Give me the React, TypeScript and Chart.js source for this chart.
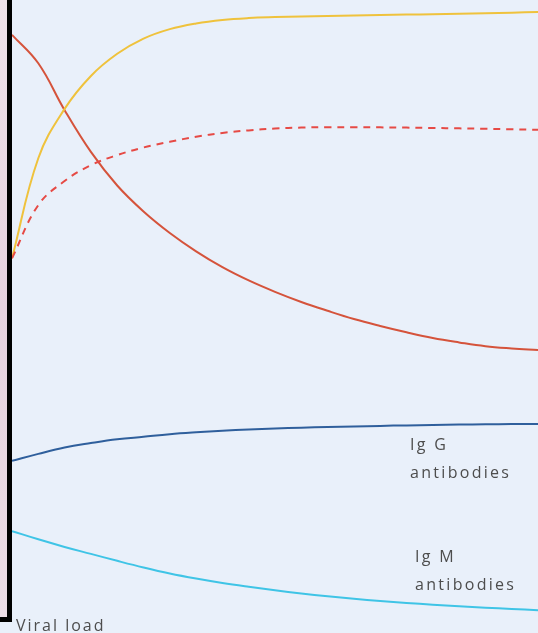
import React, { useEffect, useRef } from "react";
import { Chart, registerables } from "chart.js";
Chart.register(...registerables);

const times = [0, 5, 10, 15, 20, 25, 30, 35, 40, 45, 50, 55, 60, 65, 70, 75, 80, 85, 90, 95, 100];
const viralLoad = [94.5, 90.0, 82.6, 76.0, 70.7, 66.6, 63.2, 60.3, 57.8, 55.7, 53.9, 52.3, 50.9, 49.6, 48.5, 47.5, 46.6, 45.9, 45.3, 44.95, 44.7];
const yellowCurve = [59.2, 75.0, 82.8, 88.0, 91.5, 93.9, 95.4, 96.3, 96.85, 97.15, 97.3, 97.4, 97.48, 97.55, 97.62, 97.69, 97.76, 97.83, 97.9, 98.0, 98.1];
const dashedCurve = [59.2, 67.6, 71.4, 73.9, 75.5, 76.7, 77.6, 78.4, 79.0, 79.4, 79.7, 79.85, 79.9, 79.9, 79.88, 79.84, 79.78, 79.72, 79.65, 79.58, 79.5];
const igG = [27.2, 28.3, 29.3, 30.0, 30.6, 31.0, 31.4, 31.7, 31.95, 32.15, 32.3, 32.43, 32.54, 32.64, 32.72, 32.8, 32.87, 32.93, 32.97, 33.0, 33.02];
const igM = [16.1, 14.8, 13.6, 12.5, 11.4, 10.35, 9.4, 8.6, 7.9, 7.3, 6.75, 6.25, 5.8, 5.4, 5.05, 4.75, 4.48, 4.22, 4.0, 3.8, 3.6];

const pts = (arr: number[]) => arr.map((v, i) => ({ x: times[i], y: v }));

export default function App() {
  const ref = useRef<HTMLCanvasElement | null>(null);
  useEffect(() => {
    document.body.style.margin = "0";
    const mk = (label: string, data: number[], color: string, dash: number[] = []) => ({
      label,
      data: pts(data),
      borderColor: color,
      borderWidth: 2,
      borderDash: dash,
      pointRadius: 0,
      fill: false,
      tension: 0.4,
      clip: false as any,
    });
    const chart = new Chart(ref.current!, {
      type: "line",
      data: {
        datasets: [
          mk("IgG", igG, "#2f5f9c"),
          mk("IgM", igM, "#3fc4e6"),
          mk("Dashed", dashedCurve, "#e64a45", [7, 6]),
          mk("Yellow", yellowCurve, "#efc23c"),
          mk("Viral load", viralLoad, "#d5533b"),
        ],
      },
      options: {
        animation: false,
        responsive: false,
        layout: { padding: 0 },
        plugins: { legend: { display: false }, tooltip: { enabled: false } },
        scales: {
          x: { type: "linear", min: 0, max: 100, display: false },
          y: { type: "linear", min: 0, max: 100, display: false },
        },
      },
    });
    return () => chart.destroy();
  }, []);

  const txt: React.CSSProperties = {
    position: "absolute",
    fontFamily: "'Open Sans', sans-serif",
    fontSize: 16,
    letterSpacing: "2.3px",
    color: "#4d4d4d",
    lineHeight: "28px",
    whiteSpace: "nowrap",
  };

  return (
    <div style={{ position: "fixed", left: 0, top: 0, width: 538, height: 633, background: "#e9f0fa", overflow: "hidden" }}>
      <div style={{ position: "absolute", left: 0, top: 0, width: 7, height: 617, background: "linear-gradient(180deg,#efe2ea,#e6d2de 50%,#ecdde6)" }} />
      <canvas ref={ref} width={526} height={633} style={{ position: "absolute", left: 12, top: 0, width: 526, height: 633 }} />
      <div style={{ position: "absolute", left: 7, top: 0, width: 5, height: 622, background: "#000" }} />
      <div style={{ position: "absolute", left: 0, top: 617, width: 12, height: 5, background: "#000" }} />
      <div style={{ ...txt, left: 410, top: 430 }}>Ig G<br />antibodies</div>
      <div style={{ ...txt, left: 415, top: 542 }}>Ig M<br />antibodies</div>
      <div style={{ ...txt, left: 16, top: 614, lineHeight: "22px", letterSpacing: "2px" }}>Viral load</div>
    </div>
  );
}
